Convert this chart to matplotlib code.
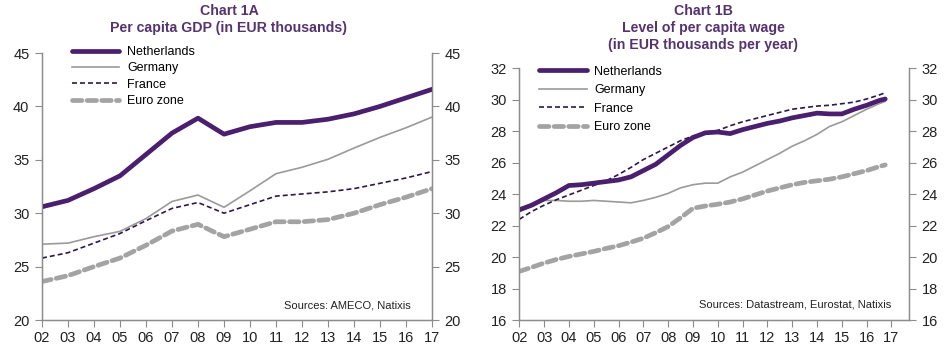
import matplotlib
matplotlib.use("Agg")
import matplotlib.pyplot as plt
import numpy as np

plt.rcParams['font.family'] = ['Liberation Sans', 'DejaVu Sans']

# Chart 1A: per capita GDP, annual
gdp_years = list(range(2002, 2018))
gdp_nl = [30.6, 31.2, 32.3, 33.5, 35.5, 37.5, 38.9, 37.4, 38.1, 38.5, 38.5, 38.8, 39.3, 40.0, 40.8, 41.6]
gdp_de = [27.1, 27.2, 27.8, 28.3, 29.5, 31.1, 31.7, 30.55, 32.1, 33.7, 34.3, 35.05, 36.1, 37.1, 38.0, 39.0]
gdp_fr = [25.8, 26.3, 27.2, 28.1, 29.3, 30.45, 31.0, 30.0, 30.8, 31.6, 31.8, 32.0, 32.3, 32.8, 33.3, 33.9]
gdp_ez = [23.6, 24.15, 25.0, 25.8, 27.0, 28.33, 28.96, 27.8, 28.5, 29.2, 29.2, 29.4, 30.0, 30.8, 31.5, 32.3]

# Chart 1B: per capita wage, half-yearly readings
wage_t = [2002.0, 2002.5, 2003.0, 2003.5, 2004.0, 2004.5, 2005.0, 2005.5, 2006.0, 2006.5,
          2007.0, 2007.5, 2008.0, 2008.5, 2009.0, 2009.5, 2010.0, 2010.5, 2011.0, 2011.5,
          2012.0, 2012.5, 2013.0, 2013.5, 2014.0, 2014.5, 2015.0, 2015.5, 2016.0, 2016.5, 2016.75]
wage_nl = [23.0, 23.3, 23.7, 24.1, 24.55, 24.6, 24.7, 24.8, 24.9, 25.1,
           25.5, 25.9, 26.5, 27.1, 27.6, 27.9, 27.95, 27.85, 28.1, 28.3,
           28.5, 28.65, 28.85, 29.0, 29.15, 29.1, 29.1, 29.4, 29.65, 29.95, 30.05]
wage_de = [23.1, 23.35, 23.6, 23.6, 23.55, 23.55, 23.6, 23.55, 23.5, 23.45,
           23.6, 23.8, 24.05, 24.4, 24.6, 24.7, 24.7, 25.1, 25.4, 25.8,
           26.2, 26.6, 27.05, 27.4, 27.8, 28.3, 28.6, 29.0, 29.4, 29.75, 29.9]
wage_fr = [22.4, 22.9, 23.3, 23.65, 23.95, 24.25, 24.55, 24.85, 25.25, 25.7,
           26.2, 26.6, 27.0, 27.4, 27.7, 27.9, 28.05, 28.35, 28.6, 28.8,
           29.0, 29.2, 29.4, 29.5, 29.6, 29.65, 29.75, 29.85, 30.05, 30.3, 30.45]
wage_ez = [19.09, 19.35, 19.62, 19.85, 20.04, 20.2, 20.36, 20.55, 20.72, 20.95,
           21.2, 21.55, 21.94, 22.5, 23.1, 23.25, 23.36, 23.5, 23.7, 23.95,
           24.2, 24.4, 24.6, 24.75, 24.85, 24.95, 25.1, 25.3, 25.5, 25.75, 25.86]

tick_years = list(range(2002, 2018))
tick_labels = ['%02d' % (y - 2000) for y in tick_years]

PURPLE = '#4a1f6e'
TITLE = '#55336f'
GREY = '#9a9a9a'
EZGREY = '#a3a3a3'
FRANCE = '#2b1a48'
SPINE = '#8c8c8c'


def draw_lines(ax, x, nl, de, fr, ez):
    ax.plot(x, nl, color=PURPLE, lw=3.4, solid_capstyle='round', label='Netherlands', zorder=5)
    ax.plot(x, de, color=GREY, lw=1.2, label='Germany', zorder=4)
    ax.plot(x, fr, color=FRANCE, lw=1.2, dashes=(3, 1.8), label='France', zorder=4)
    ax.plot(x, ez, color=EZGREY, lw=3.4, dashes=(2, 1.1), dash_capstyle='round',
            label='Euro zone', zorder=3)


def style_axes(ax, ylim, yticks, xlim):
    ax.set_xlim(*xlim)
    ax.set_ylim(*ylim)
    ax.set_yticks(yticks)
    ax.set_xticks(tick_years)
    ax.set_xticklabels(tick_labels)
    ax.spines['top'].set_visible(False)
    for s in ['left', 'right', 'bottom']:
        ax.spines[s].set_color(SPINE)
        ax.spines[s].set_linewidth(1.0)
    ax.tick_params(axis='both', direction='out', length=5, color=SPINE,
                   labelsize=10.5, labelcolor='#222222')
    ax.tick_params(axis='y', pad=4)
    ax.tick_params(axis='x', pad=3)
    ax2 = ax.twinx()
    ax2.set_ylim(*ylim)
    ax2.set_yticks(yticks)
    ax2.spines['top'].set_visible(False)
    for s in ['left', 'right', 'bottom']:
        ax2.spines[s].set_color(SPINE)
    ax2.tick_params(axis='y', direction='out', length=5, color=SPINE,
                    labelsize=10.5, labelcolor='#222222', pad=4)
    return ax2


fig = plt.figure(figsize=(9.52, 3.51), dpi=100)

# Chart 1A
ax1 = fig.add_axes([0.0441, 0.0883, 0.4097, 0.7607])
draw_lines(ax1, gdp_years, gdp_nl, gdp_de, gdp_fr, gdp_ez)
style_axes(ax1, (20, 45), [20, 25, 30, 35, 40, 45], (2002, 2017))
ax1.legend(loc='upper left', bbox_to_anchor=(0.064, 1.045), frameon=False, fontsize=9,
           handlelength=3.8, handletextpad=0.6, labelspacing=0.35, borderaxespad=0)
ax1.text(0.946, 0.056, 'Sources: AMECO, Natixis', transform=ax1.transAxes,
         ha='right', va='center', fontsize=8, color='#222222')
fig.text(0.2405, 0.968, 'Chart 1A', ha='center', va='center', fontsize=10.2,
         fontweight='bold', color=TITLE)
fig.text(0.2405, 0.921, 'Per capita GDP (in EUR thousands)', ha='center', va='center',
         fontsize=10.2, fontweight='bold', color=TITLE)

# Chart 1B
ax3 = fig.add_axes([0.5455, 0.0883, 0.4094, 0.7171])
draw_lines(ax3, wage_t, wage_nl, wage_de, wage_fr, wage_ez)
style_axes(ax3, (16, 32), [16, 18, 20, 22, 24, 26, 28, 30, 32], (2002, 2017.71))
ax3.legend(loc='upper left', bbox_to_anchor=(0.038, 1.03), frameon=False, fontsize=9,
           handlelength=3.8, handletextpad=0.6, labelspacing=0.52, borderaxespad=0)
ax3.text(0.954, 0.06, 'Sources: Datastream, Eurostat, Natixis', transform=ax3.transAxes,
         ha='right', va='center', fontsize=8, color='#222222')
fig.text(0.7385, 0.968, 'Chart 1B', ha='center', va='center', fontsize=10.2,
         fontweight='bold', color=TITLE)
fig.text(0.7385, 0.920, 'Level of per capita wage', ha='center', va='center',
         fontsize=10.2, fontweight='bold', color=TITLE)
fig.text(0.7385, 0.872, '(in EUR thousands per year)', ha='center', va='center',
         fontsize=10.2, fontweight='bold', color=TITLE)

fig.savefig('out.png', dpi=100)
